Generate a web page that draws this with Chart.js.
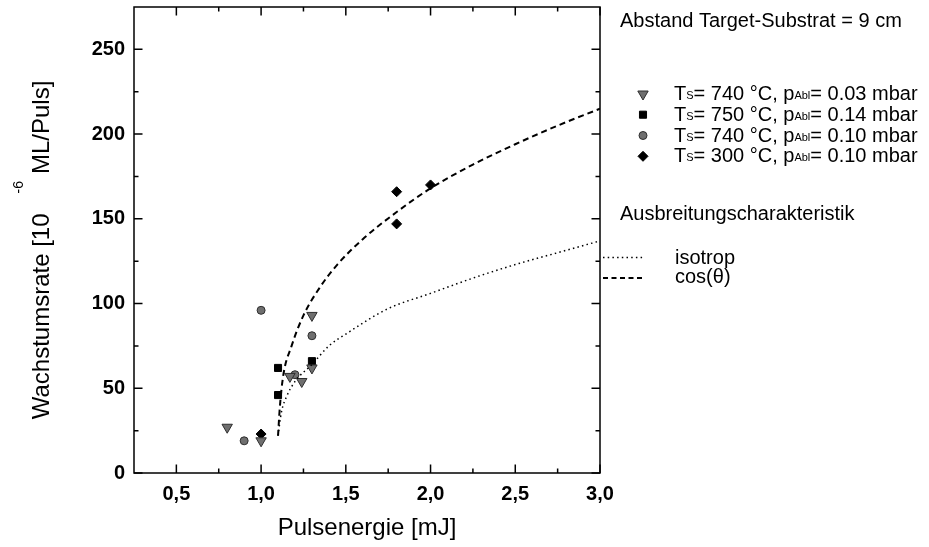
<!doctype html>
<html>
<head>
<meta charset="utf-8" />
<title>Wachstumsrate vs Pulsenergie</title>
<style>
  html, body { margin:0; padding:0; background:#fff; }
  #wrap { width:929px; height:547px; }
</style>
<script src="https://cdn.jsdelivr.net/npm/chart.js"></script>
</head>
<body>
<div id="wrap"><canvas id="chart" width="929" height="547"></canvas></div>
<script>
// measured points, Pulsenergie [mJ] vs Wachstumsrate
const triX = [0.8, 1.0, 1.17, 1.24, 1.3, 1.3];      // Ts=740, p=0.03
const triY = [27, 19, 57, 54, 62, 93];
const sqX = [1.1, 1.1, 1.3];                         // Ts=750, p=0.14
const sqY = [62, 46, 66];
const circX = [0.9, 1.0, 1.2, 1.3];                  // Ts=740, p=0.10
const circY = [19, 96, 58, 81];
const diaX = [1.0, 1.8, 1.8, 2.0];                   // Ts=300, p=0.10
const diaY = [23, 166, 147, 170];

// model curves
const isoX = [1.1, 1.12, 1.15, 1.2, 1.3, 1.4, 1.5, 1.75, 2.0, 2.25, 2.5, 2.75, 3.0];
const isoY = [22, 36, 45, 54, 64, 75, 82, 97, 106, 115, 123, 130, 137];
const cosX = [1.1, 1.11, 1.13, 1.18, 1.25, 1.35, 1.45, 1.6, 1.8, 2.0, 2.25, 2.5, 2.75, 3.0];
const cosY = [22, 38, 57, 75, 93, 110, 123, 138, 154, 168, 182, 194, 205, 215];

const xTicks = [0.5, 1.0, 1.5, 2.0, 2.5, 3.0];
const xTickLabels = ['0,5', '1,0', '1,5', '2,0', '2,5', '3,0'];
const xMinor = [0.75, 1.25, 1.75, 2.25, 2.75];
const yTicks = [0, 50, 100, 150, 200, 250];
const yTickLabels = ['0', '50', '100', '150', '200', '250'];
const yMinor = [25, 75, 125, 175, 225];

const legendTemps = ['740', '750', '740', '300'];
const legendPress = ['0.03', '0.14', '0.10', '0.10'];

const FONT = "'Liberation Sans', Arial, Helvetica, sans-serif";
const gray = '#6f6f6f', grayEdge = '#2e2e2e';

const pts = (xs, ys) => xs.map((x, i) => ({ x: x, y: ys[i] }));

const markerStyles = [
  { pointStyle: 'triangle', radius: 6, rotation: 180, bg: gray, border: grayEdge },
  { pointStyle: 'rect', radius: 5, rotation: 0, bg: '#000', border: '#000' },
  { pointStyle: 'circle', radius: 4, rotation: 0, bg: gray, border: grayEdge },
  { pointStyle: 'rectRot', radius: 5, rotation: 0, bg: '#000', border: '#000' }
];
const seriesData = [pts(triX, triY), pts(sqX, sqY), pts(circX, circY), pts(diaX, diaY)];

function drawRuns(ctx, x, y, runs) {
  runs.forEach(r => {
    ctx.font = r.f;
    ctx.fillText(r.t, x, y - (r.dy || 0));
    x += ctx.measureText(r.t).width;
  });
  return x;
}

const framePlugin = {
  id: 'frame',
  afterDraw(chart) {
    const { ctx, chartArea: a, scales: { x, y } } = chart;
    ctx.save();
    ctx.strokeStyle = '#000';
    ctx.lineWidth = 1.5;
    ctx.strokeRect(a.left, a.top, a.right - a.left, a.bottom - a.top);
    ctx.beginPath();
    const tickX = (v, len) => {
      const px = x.getPixelForValue(v);
      ctx.moveTo(px, a.bottom); ctx.lineTo(px, a.bottom - len);
      ctx.moveTo(px, a.top); ctx.lineTo(px, a.top + len);
    };
    const tickY = (v, len) => {
      const py = y.getPixelForValue(v);
      ctx.moveTo(a.left, py); ctx.lineTo(a.left + len, py);
      ctx.moveTo(a.right, py); ctx.lineTo(a.right - len, py);
    };
    xTicks.forEach(v => tickX(v, 8.5));
    xMinor.forEach(v => tickX(v, 4.5));
    yTicks.forEach(v => tickY(v, 8.5));
    yMinor.forEach(v => tickY(v, 4.5));
    ctx.stroke();

    // axis titles
    ctx.fillStyle = '#000';
    ctx.textBaseline = 'alphabetic';
    ctx.textAlign = 'center';
    ctx.font = '24px ' + FONT;
    ctx.fillText('Pulsenergie [mJ]', (a.left + a.right) / 2, 535);

    ctx.save();
    ctx.translate(49, 250);
    ctx.rotate(-Math.PI / 2);
    ctx.textAlign = 'left';
    const big = '24px ' + FONT, sup = '14px ' + FONT;
    ctx.font = big;
    const w1 = ctx.measureText('Wachstumsrate [10').width;
    const w2 = ctx.measureText('ML/Puls]').width;
    ctx.font = sup;
    const ws = ctx.measureText('-6').width;
    const total = w1 + 20 + ws + 7 + w2;
    let sx = -total / 2;
    ctx.font = big;
    ctx.fillText('Wachstumsrate [10', sx, 0);
    sx += w1 + 20;
    ctx.font = sup;
    ctx.fillText('-6', sx, -26);
    sx += ws + 7;
    ctx.font = big;
    ctx.fillText('ML/Puls]', sx, 0);
    ctx.restore();

    // legend
    ctx.textAlign = 'left';
    ctx.font = '20px ' + FONT;
    ctx.fillText('Abstand Target-Substrat = 9 cm', 620, 27);
    const rowBase = [100, 120.7, 141.5, 162.3];
    const big20 = '20px ' + FONT, small = '11px ' + FONT;
    markerStyles.forEach((m, i) => {
      ctx.fillStyle = m.bg;
      ctx.strokeStyle = m.border;
      ctx.lineWidth = 1;
      Chart.helpers.drawPoint(ctx, { pointStyle: m.pointStyle, radius: m.radius, rotation: m.rotation, borderWidth: 1 }, 643, rowBase[i] - 6);
      ctx.fillStyle = '#000';
      drawRuns(ctx, 674, rowBase[i], [
        { t: 'T', f: big20 }, { t: 'S', f: small, dy: 1 },
        { t: '= ' + legendTemps[i] + ' \u00b0C, p', f: big20 },
        { t: 'Abl', f: small, dy: 1 },
        { t: '= ' + legendPress[i] + ' mbar', f: big20 }
      ]);
    });
    ctx.font = '20px ' + FONT;
    ctx.fillText('Ausbreitungscharakteristik', 620, 220);
    ctx.strokeStyle = '#000';
    ctx.lineWidth = 1.5;
    ctx.setLineDash([1.5, 3.2]);
    ctx.beginPath(); ctx.moveTo(603, 257.5); ctx.lineTo(643, 257.5); ctx.stroke();
    ctx.lineWidth = 1.8;
    ctx.setLineDash([5, 3.5]);
    ctx.beginPath(); ctx.moveTo(603, 278); ctx.lineTo(643, 278); ctx.stroke();
    ctx.setLineDash([]);
    ctx.fillText('isotrop', 675, 264);
    ctx.fillText('cos(\u03b8)', 675, 283);
    ctx.restore();
  }
};

const scatterSet = (i) => ({
  type: 'scatter',
  data: seriesData[i],
  showLine: false,
  pointStyle: markerStyles[i].pointStyle,
  pointRadius: markerStyles[i].radius,
  pointRotation: markerStyles[i].rotation,
  pointBackgroundColor: markerStyles[i].bg,
  pointBorderColor: markerStyles[i].border,
  pointBorderWidth: 1
});

new Chart(document.getElementById('chart').getContext('2d'), {
  type: 'scatter',
  data: {
    datasets: [
      { type: 'line', label: 'isotrop', data: pts(isoX, isoY), borderColor: '#000', borderWidth: 1.5,
        borderDash: [1.5, 3.2], pointRadius: 0, fill: false, cubicInterpolationMode: 'monotone' },
      { type: 'line', label: 'cos', data: pts(cosX, cosY), borderColor: '#000', borderWidth: 2,
        borderDash: [6, 4], pointRadius: 0, fill: false, cubicInterpolationMode: 'monotone' },
      scatterSet(0), scatterSet(1), scatterSet(2), scatterSet(3)
    ]
  },
  options: {
    responsive: false,
    animation: false,
    devicePixelRatio: 1,
    layout: { padding: { top: 6, right: 329, left: 0, bottom: 0 } },
    plugins: { legend: { display: false }, tooltip: { enabled: false } },
    scales: {
      x: {
        type: 'linear', min: 0.25, max: 3.0,
        grid: { display: false, drawTicks: false }, border: { display: false },
        afterBuildTicks: s => { s.ticks = xTicks.map(v => ({ value: v })); },
        afterFit: s => { s.height = 74; s.paddingLeft = 0; s.paddingRight = 0; },
        ticks: { callback: (v, i) => xTickLabels[i], color: '#000', padding: 9, maxRotation: 0, autoSkip: false,
          font: { family: FONT, size: 20, weight: 'bold' } }
      },
      y: {
        type: 'linear', min: 0, max: 275,
        grid: { display: false, drawTicks: false }, border: { display: false },
        afterBuildTicks: s => { s.ticks = yTicks.map(v => ({ value: v })); },
        afterFit: s => { s.width = 134; s.paddingTop = 0; s.paddingBottom = 0; },
        ticks: { callback: (v, i) => yTickLabels[i], color: '#000', padding: 9, autoSkip: false,
          font: { family: FONT, size: 20, weight: 'bold' } }
      }
    }
  },
  plugins: [framePlugin]
});
</script>
</body>
</html>
